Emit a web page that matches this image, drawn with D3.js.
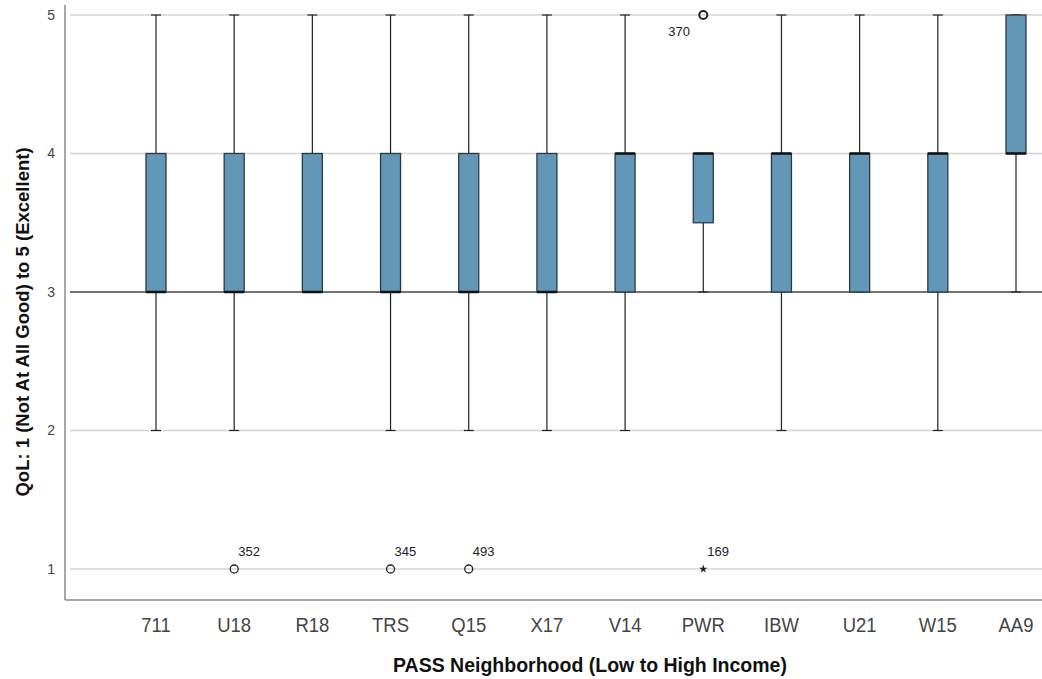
<!DOCTYPE html>
<html>
<head>
<meta charset="utf-8">
<script src="https://cdn.jsdelivr.net/npm/d3@7"></script>
<style>
  body { margin: 0; background: #fff; }
  svg { display: block; font-family: "Liberation Sans", Arial, sans-serif; }
</style>
</head>
<body>
<svg id="chart" width="1042" height="679"></svg>
<script>
// Neighborhoods, low to high income
var categories = ['711', 'U18', 'R18', 'TRS', 'Q15', 'X17', 'V14', 'PWR', 'IBW', 'U21', 'W15', 'AA9'];
var whiskerLow = [2, 2, 3, 2, 2, 2, 2, 3, 2, 3, 2, 3];
var q1 = [3, 3, 3, 3, 3, 3, 3, 3.5, 3, 3, 3, 4];
var median = [3, 3, 3, 3, 3, 3, 4, 4, 4, 4, 4, 4];
var q3 = [4, 4, 4, 4, 4, 4, 4, 4, 4, 4, 4, 5];
var whiskerHigh = [5, 5, 5, 5, 5, 5, 5, 4, 5, 5, 5, 5];

// Outliers: category, value, case label, type
var outlierCats = ['U18', 'TRS', 'Q15', 'PWR', 'PWR'];
var outlierValues = [1, 1, 1, 5, 1];
var outlierIds = ['352', '345', '493', '370', '169'];
var outlierKinds = ['circle', 'circle', 'circle', 'circle', 'star'];

var yTicks = [1, 2, 3, 4, 5];

var svg = d3.select('#chart');
var axisLeftX = 65, axisBottomY = 600;

var x = d3.scalePoint().domain(categories).range([156, 1016]);
var y = d3.scaleLinear().domain([1, 5]).range([569, 15]);
var boxW = 20;

// Gridlines
svg.append('g').selectAll('line')
  .data(yTicks)
  .enter().append('line')
  .attr('x1', axisLeftX + 5)
  .attr('x2', 1042)
  .attr('y1', function(d) { return y(d); })
  .attr('y2', function(d) { return y(d); })
  .attr('stroke', function(d) { return d === 3 ? '#444' : '#d4d4d4'; })
  .attr('stroke-width', 1.5);

// Axes lines
svg.append('line')
  .attr('x1', axisLeftX).attr('x2', axisLeftX)
  .attr('y1', 5).attr('y2', axisBottomY)
  .attr('stroke', '#8a8a8a').attr('stroke-width', 1.5);
svg.append('line')
  .attr('x1', axisLeftX).attr('x2', 1042)
  .attr('y1', axisBottomY).attr('y2', axisBottomY)
  .attr('stroke', '#8a8a8a').attr('stroke-width', 1.5);

// Y tick labels
svg.append('g').selectAll('text')
  .data(yTicks)
  .enter().append('text')
  .attr('x', 55)
  .attr('y', function(d) { return y(d); })
  .attr('dy', '0.35em')
  .attr('text-anchor', 'end')
  .attr('font-size', 14)
  .attr('fill', '#444')
  .text(function(d) { return d; });

// X tick labels
svg.append('g').selectAll('text')
  .data(categories)
  .enter().append('text')
  .attr('x', function(d) { return x(d); })
  .attr('y', 632)
  .attr('text-anchor', 'middle')
  .attr('font-size', 21)
  .attr('fill', '#444')
  .attr('transform', function(d) { return 'translate(' + x(d) + ',0) scale(0.88,1) translate(' + (-x(d)) + ',0)'; })
  .text(function(d) { return d; });

// Boxes
var boxes = svg.append('g').selectAll('g')
  .data(categories)
  .enter().append('g');

// whiskers
boxes.append('line')
  .attr('x1', function(d) { return x(d); })
  .attr('x2', function(d) { return x(d); })
  .attr('y1', function(d, i) { return y(whiskerLow[i]); })
  .attr('y2', function(d, i) { return y(q1[i]); })
  .attr('stroke', '#222').attr('stroke-width', 1.2);
boxes.append('line')
  .attr('x1', function(d) { return x(d); })
  .attr('x2', function(d) { return x(d); })
  .attr('y1', function(d, i) { return y(q3[i]); })
  .attr('y2', function(d, i) { return y(whiskerHigh[i]); })
  .attr('stroke', '#222').attr('stroke-width', 1.2);
// caps
boxes.append('line')
  .attr('x1', function(d) { return x(d) - 5; })
  .attr('x2', function(d) { return x(d) + 5; })
  .attr('y1', function(d, i) { return y(whiskerLow[i]); })
  .attr('y2', function(d, i) { return y(whiskerLow[i]); })
  .attr('stroke', '#222').attr('stroke-width', 1.2);
boxes.append('line')
  .attr('x1', function(d) { return x(d) - 5; })
  .attr('x2', function(d) { return x(d) + 5; })
  .attr('y1', function(d, i) { return y(whiskerHigh[i]); })
  .attr('y2', function(d, i) { return y(whiskerHigh[i]); })
  .attr('stroke', '#222').attr('stroke-width', 1.2);

boxes.append('rect')
  .attr('x', function(d) { return x(d) - boxW / 2; })
  .attr('width', boxW)
  .attr('y', function(d, i) { return y(q3[i]); })
  .attr('height', function(d, i) { return y(q1[i]) - y(q3[i]); })
  .attr('fill', '#6397b7')
  .attr('stroke', '#2a3a44')
  .attr('stroke-width', 1.3);

// medians
boxes.append('line')
  .attr('x1', function(d) { return x(d) - boxW / 2; })
  .attr('x2', function(d) { return x(d) + boxW / 2; })
  .attr('y1', function(d, i) { return y(median[i]); })
  .attr('y2', function(d, i) { return y(median[i]); })
  .attr('stroke', '#111').attr('stroke-width', 2.5);

// Outliers
var outliers = svg.append('g').selectAll('g')
  .data(outlierCats)
  .enter().append('g')
  .attr('transform', function(d, i) { return 'translate(' + x(d) + ',' + y(outlierValues[i]) + ')'; });

outliers.filter(function(d, i) { return outlierKinds[i] === 'circle'; })
  .append('circle')
  .attr('r', 4)
  .attr('fill', 'none')
  .attr('stroke', '#222')
  .attr('stroke-width', function(d, i) { return outlierValues[i] === 5 ? 2 : 1.3; });

outliers.filter(function(d, i) { return outlierKinds[i] === 'star'; })
  .append('path')
  .attr('d', d3.symbol().type(d3.symbolStar).size(22))
  .attr('fill', '#222');

outliers.append('text')
  .attr('x', function(d, i) { return outlierValues[i] === 5 ? -35 : 4; })
  .attr('y', function(d, i) { return outlierValues[i] === 5 ? 21 : -13; })
  .attr('font-size', 13)
  .attr('fill', '#222')
  .text(function(d, i) { return outlierIds[i]; });

// Axis titles
svg.append('text')
  .attr('transform', 'translate(29, 322) rotate(-90)')
  .attr('text-anchor', 'middle')
  .attr('font-size', 18.5)
  .attr('font-weight', 'bold')
  .attr('fill', '#111')
  .text('QoL: 1 (Not At All Good) to 5 (Excellent)');

svg.append('text')
  .attr('x', 590)
  .attr('y', 672)
  .attr('text-anchor', 'middle')
  .attr('font-size', 19.5)
  .attr('font-weight', 'bold')
  .attr('fill', '#111')
  .text('PASS Neighborhood (Low to High Income)');
</script>
</body>
</html>
